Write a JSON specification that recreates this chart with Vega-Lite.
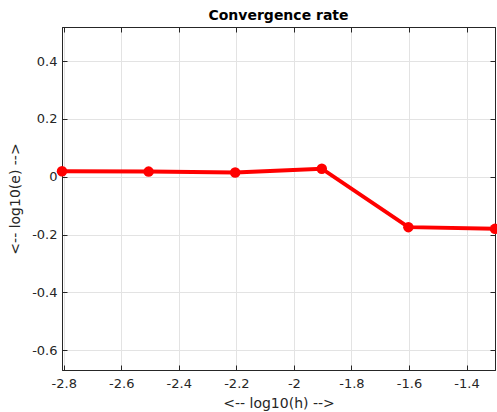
{
  "$schema": "https://vega.github.io/schema/vega-lite/v6.json",
  "width": 433,
  "height": 343,
  "autosize": "none",
  "padding": {"left": 62, "top": 27, "right": 2, "bottom": 42},
  "background": "white",
  "title": {"text": "Convergence rate", "font": "DejaVu Sans", "fontSize": 14, "fontWeight": "bold", "color": "black", "offset": 4},
  "config": {
    "view": {"stroke": "#262626", "strokeWidth": 1},
    "axis": {
      "labelFont": "DejaVu Sans",
      "labelFontSize": 13,
      "labelColor": "#262626",
      "titleFont": "DejaVu Sans",
      "titleFontSize": 14,
      "titleFontWeight": "normal",
      "titleColor": "#262626",
      "domainColor": "#262626",
      "tickColor": "#262626",
      "gridColor": "#e3e3e3",
      "tickSize": -5,
      "labelExpr": "'' + datum.value"
    }
  },
  "data": {
    "values": [
      {"lh": -2.806, "le": 0.019},
      {"lh": -2.505, "le": 0.018},
      {"lh": -2.204, "le": 0.015},
      {"lh": -1.903, "le": 0.028},
      {"lh": -1.602, "le": -0.174},
      {"lh": -1.301, "le": -0.180}
    ]
  },
  "layer": [
    {
      "mark": {"type": "line", "color": "#ff0000", "strokeWidth": 4, "clip": true},
      "encoding": {
        "x": {"field": "lh", "type": "quantitative", "scale": {"domain": [-2.806, -1.301], "nice": false, "zero": false},
              "axis": {"orient": "bottom", "title": "<-- log10(h) -->", "values": [-2.8, -2.6, -2.4, -2.2, -2, -1.8, -1.6, -1.4], "grid": true, "labelPadding": 12, "titlePadding": 6}},
        "y": {"field": "le", "type": "quantitative", "scale": {"domain": [-0.668, 0.518], "nice": false, "zero": false},
              "axis": {"orient": "left", "title": "<-- log10(e) -->", "values": [-0.6, -0.4, -0.2, 0, 0.2, 0.4], "grid": true, "labelPadding": 10, "titlePadding": 9}}
      }
    },
    {
      "mark": {"type": "point", "shape": "circle", "filled": true, "color": "#ff0000", "size": 110, "opacity": 1},
      "encoding": {
        "x": {"field": "lh", "type": "quantitative", "scale": {"domain": [-2.806, -1.301], "nice": false, "zero": false},
              "axis": {"orient": "top", "title": null, "labels": false, "values": [-2.8, -2.6, -2.4, -2.2, -2, -1.8, -1.6, -1.4], "grid": false}},
        "y": {"field": "le", "type": "quantitative", "scale": {"domain": [-0.668, 0.518], "nice": false, "zero": false},
              "axis": {"orient": "right", "title": null, "labels": false, "values": [-0.6, -0.4, -0.2, 0, 0.2, 0.4], "grid": false}}
      }
    }
  ],
  "resolve": {"axis": {"x": "independent", "y": "independent"}}
}
